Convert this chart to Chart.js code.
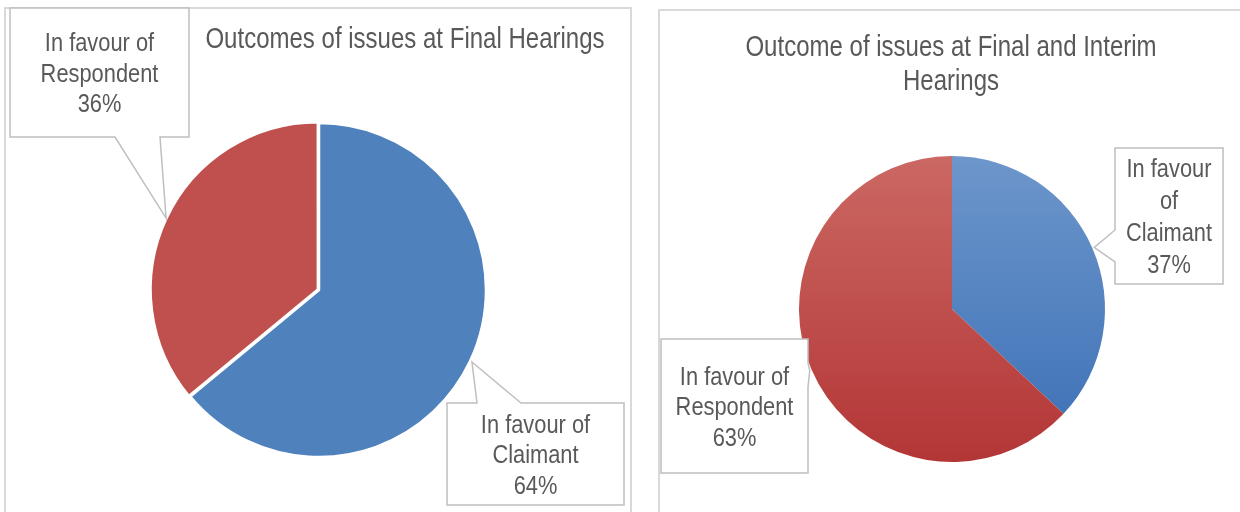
<!DOCTYPE html>
<html>
<head>
<meta charset="utf-8">
<script src="https://cdn.jsdelivr.net/npm/chart.js@4/dist/chart.umd.min.js"></script>
<style>
  body { margin: 0; background: #fff; width: 1240px; height: 512px; overflow: hidden; position: relative; }
  .panel { position: absolute; border: 2px solid #d9d9d9; box-sizing: border-box; }
  canvas { position: absolute; top: 0; }
</style>
</head>
<body>
<div class="panel" style="left:4px;top:7px;width:628px;height:520px"></div>
<div class="panel" style="left:658px;top:9px;width:600px;height:520px"></div>
<canvas id="finalChart" width="640" height="512" style="left:0"></canvas>
<canvas id="bothChart" width="600" height="512" style="left:640px"></canvas>
<script>
// data
const categories = ["In favour of Claimant", "In favour of Respondent"];
const finalValues = [64, 36];
const finalInterimValues = [37, 63];
const titleFinal = "Outcomes of issues at Final Hearings";
const titleBoth = "Outcome of issues at Final and Interim Hearings";

const textColor = "#595959";
const labelFont = '26px "Liberation Sans", Arial, sans-serif';
const narrow = 0.84; // squeeze text to look like Arial Narrow

function wrapText(ctx, text, maxWidth) {
    const words = text.split(" ");
    const lines = [];
    let line = "";
    words.forEach(w => {
        const test = line ? line + " " + w : w;
        if (line && ctx.measureText(test).width * narrow > maxWidth) {
            lines.push(line);
            line = w;
        } else {
            line = test;
        }
    });
    if (line) lines.push(line);
    return lines;
}

function narrowText(ctx, text, x, y) {
    ctx.save();
    ctx.translate(x, y);
    ctx.scale(narrow, 1);
    ctx.fillText(text, 0, 0);
    ctx.restore();
}

// draws the title and the callout boxes with their pointers
const calloutPlugin = {
    id: "callouts",
    afterDraw(chart, args, opts) {
        const ctx = chart.ctx;
        const meta = chart.getDatasetMeta(0);
        const values = chart.data.datasets[0].data;
        const total = values.reduce((a, b) => a + b, 0);
        ctx.save();

        // title
        ctx.font = opts.title.size + 'px "Liberation Sans", Arial, sans-serif';
        ctx.fillStyle = textColor;
        ctx.textAlign = "center";
        ctx.textBaseline = "middle";
        const tLines = wrapText(ctx, opts.title.text, opts.title.maxWidth);
        tLines.forEach((l, i) => narrowText(ctx, l, opts.title.x, opts.title.y + i * 34));

        opts.boxes.forEach((b, i) => {
            const arc = meta.data[i];
            const p = arc.getProps(["x", "y", "startAngle", "endAngle", "outerRadius"], true);
            const mid = (p.startAngle + p.endAngle) / 2;
            const tip = [p.x + Math.cos(mid) * (p.outerRadius + 2), p.y + Math.sin(mid) * (p.outerRadius + 2)];
            const x0 = b.x, y0 = b.y, x1 = b.x + b.w, y1 = b.y + b.h;
            const [a, c] = b.base;

            ctx.beginPath();
            ctx.moveTo(x0, y0);
            if (b.edge === "top") { ctx.lineTo(a, y0); ctx.lineTo(tip[0], tip[1]); ctx.lineTo(c, y0); }
            ctx.lineTo(x1, y0);
            if (b.edge === "right") { ctx.lineTo(x1, a); ctx.lineTo(tip[0], tip[1]); ctx.lineTo(x1, c); }
            ctx.lineTo(x1, y1);
            if (b.edge === "bottom") { ctx.lineTo(c, y1); ctx.lineTo(tip[0], tip[1]); ctx.lineTo(a, y1); }
            ctx.lineTo(x0, y1);
            if (b.edge === "left") { ctx.lineTo(x0, c); ctx.lineTo(tip[0], tip[1]); ctx.lineTo(x0, a); }
            ctx.closePath();
            ctx.fillStyle = "#ffffff";
            ctx.fill();
            ctx.strokeStyle = "#bfbfbf";
            ctx.lineWidth = 1.5;
            ctx.stroke();

            ctx.font = labelFont;
            ctx.fillStyle = textColor;
            const lines = wrapText(ctx, chart.data.labels[i], b.w - 16);
            lines.push(Math.round(values[i] / total * 100) + "%");
            const lh = b.lineHeight || 30.5;
            const cy = y0 + b.h / 2 + 2;
            lines.forEach((l, k) => {
                narrowText(ctx, l, x0 + b.w / 2, cy + (k - (lines.length - 1) / 2) * lh);
            });
        });
        ctx.restore();
    }
};

// light-to-dark vertical shading for the second pie
const shades = [["#6d96cb", "#3a6fb5"], ["#cb6863", "#b33636"]];
function shadedFill(context) {
    const chart = context.chart;
    const area = chart.chartArea;
    const pair = shades[context.dataIndex] || shades[0];
    if (!area) return pair[0];
    const r = context.dataset.radius;
    const cy = (area.top + area.bottom) / 2;
    const g = chart.ctx.createLinearGradient(0, cy - r, 0, cy + r);
    g.addColorStop(0, pair[0]);
    g.addColorStop(1, pair[1]);
    return g;
}

new Chart(document.getElementById("finalChart").getContext("2d"), {
    type: "pie",
    data: {
        labels: categories,
        datasets: [{
            data: finalValues,
            backgroundColor: ["#4f81bd", "#c0504d"],
            borderColor: "#ffffff",
            borderWidth: 2.5,
            offset: [0, 5],
            radius: 167
        }]
    },
    options: {
        responsive: false,
        animation: false,
        events: [],
        layout: { padding: { left: 0, right: 2, top: 68, bottom: 0 } },
        plugins: {
            legend: { display: false },
            tooltip: { enabled: false },
            callouts: {
                title: { text: titleFinal, x: 405, y: 40, maxWidth: 440, size: 28.6 },
                boxes: [
                    { x: 447, y: 403, w: 177, h: 102, edge: "top", base: [477, 521] },
                    { x: 10, y: 8, w: 179, h: 129, edge: "bottom", base: [115, 160] }
                ]
            }
        }
    },
    plugins: [calloutPlugin]
});

new Chart(document.getElementById("bothChart").getContext("2d"), {
    type: "pie",
    data: {
        labels: categories,
        datasets: [{
            data: finalInterimValues,
            backgroundColor: shadedFill,
            borderWidth: 0,
            radius: 153
        }]
    },
    options: {
        responsive: false,
        animation: false,
        events: [],
        layout: { padding: { left: 24, right: 0, top: 106, bottom: 0 } },
        plugins: {
            legend: { display: false },
            tooltip: { enabled: false },
            callouts: {
                title: { text: titleBoth, x: 311, y: 48, maxWidth: 440, size: 28.6 },
                boxes: [
                    { x: 475, y: 148, w: 108, h: 136, edge: "left", base: [230, 262], lineHeight: 32 },
                    { x: 21, y: 339, w: 147, h: 134, edge: "right", base: [363, 387] }
                ]
            }
        }
    },
    plugins: [calloutPlugin]
});
</script>
</body>
</html>
